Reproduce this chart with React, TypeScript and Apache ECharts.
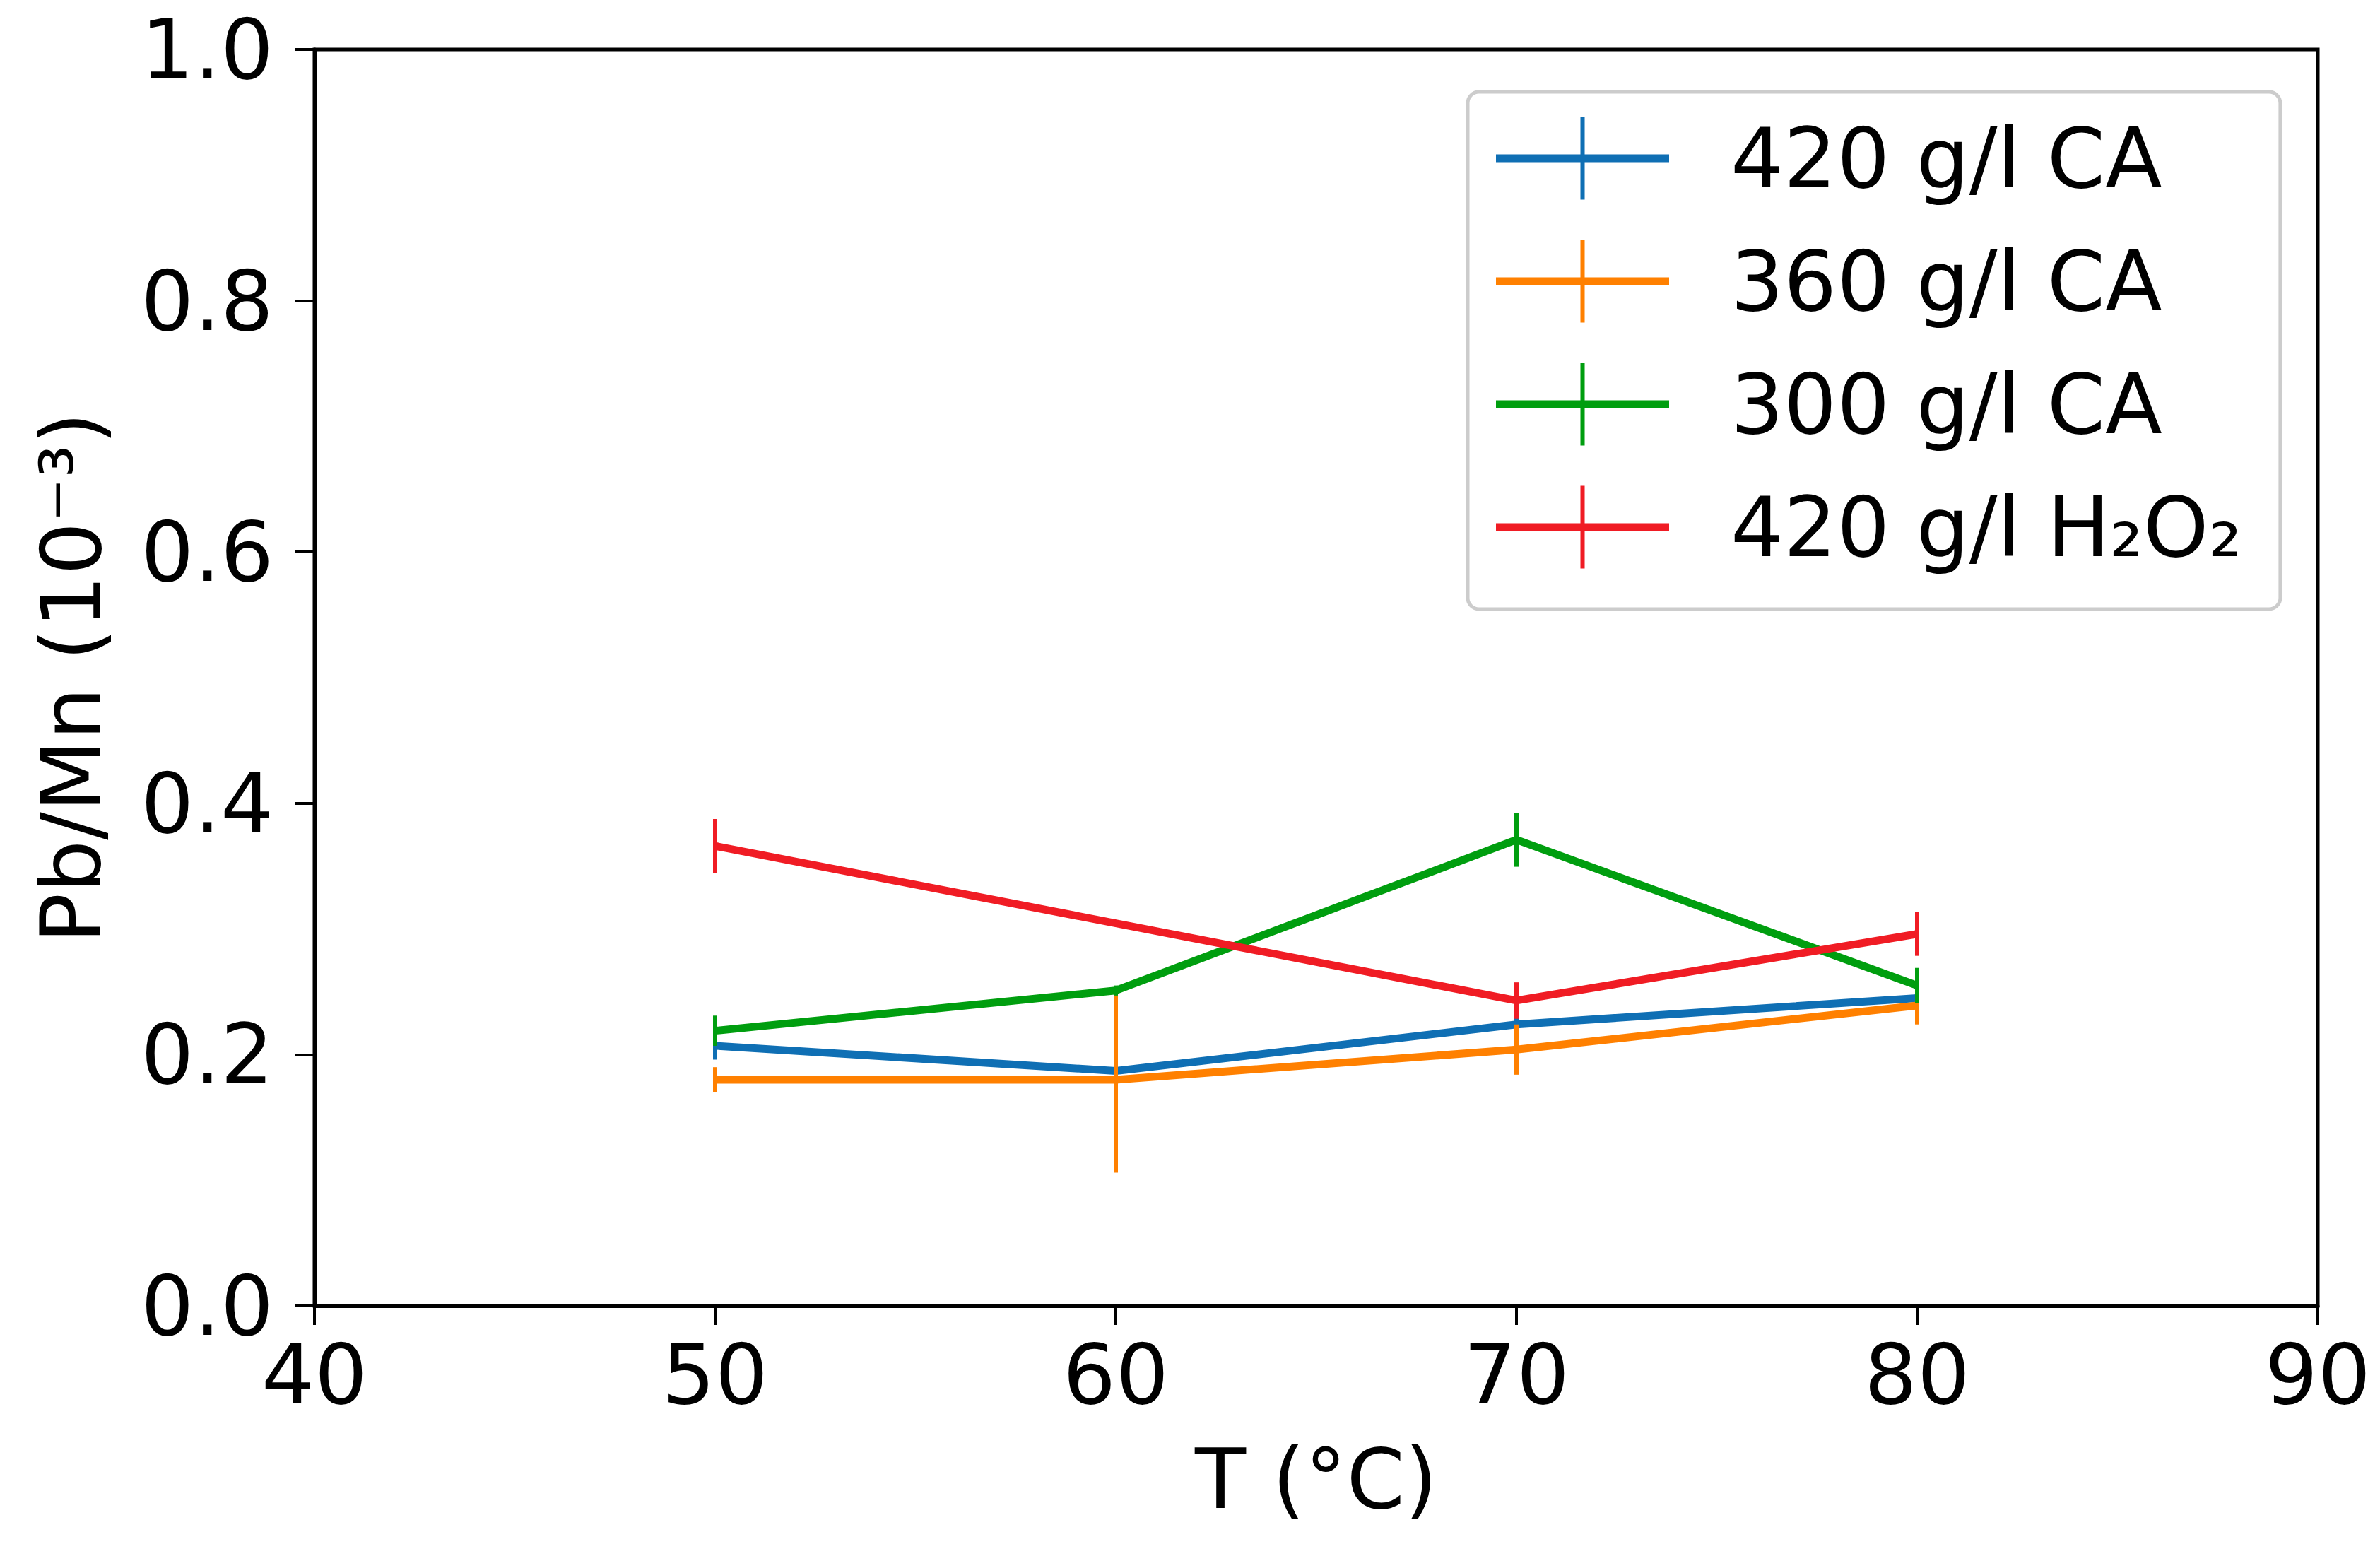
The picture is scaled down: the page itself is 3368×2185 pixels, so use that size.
import React, { FC, useEffect, useRef } from "react";
import * as echarts from "echarts";

const temps = [50, 60, 70, 80];
const seriesNames = ["420 g/l CA", "360 g/l CA", "300 g/l CA", "420 g/l H₂O₂"];
const colors = ["#0f6fb4", "#ff8000", "#009e0f", "#f01c24"];
const ca420 = [0.207, 0.187, 0.224, 0.245];
const ca420Err = [0.011, 0.004, 0.005, 0.004];
const ca360 = [0.18, 0.18, 0.204, 0.239];
const ca360Err = [0.01, 0.074, 0.02, 0.015];
const ca300 = [0.219, 0.251, 0.371, 0.255];
const ca300Err = [0.012, 0.004, 0.0215, 0.014];
const h2o2 = [0.366, null, 0.243, 0.296];
const h2o2Err = [0.0215, null, 0.0145, 0.0174];
const xTicks = [40, 90, 10];
const yTicks = [0, 1, 0.2];

const values = [ca420, ca360, ca300, h2o2];
const errors = [ca420Err, ca360Err, ca300Err, h2o2Err];

const font = "DejaVu Sans";

// legend icon: horizontal line crossed by an error bar
const legendIcon = "path://M0,53H245V64H0Z M119.5,0H125.5V117H119.5Z";

const App: FC = () => {
  const ref = useRef<HTMLDivElement>(null);

  useEffect(() => {
    const chart = echarts.init(ref.current, null, { renderer: "svg" });

    const series: any[] = [];
    values.forEach((vals, i) => {
      const lineData = temps
        .map((t, k) => [t, vals[k]])
        .filter((d) => d[1] !== null);
      series.push({
        name: seriesNames[i],
        type: "line",
        data: lineData,
        symbol: "none",
        showSymbol: false,
        lineStyle: { width: 11, color: colors[i] },
        itemStyle: { color: colors[i] },
        z: 2 + i * 2,
      });
      const errData = temps
        .map((t, k) =>
          vals[k] === null ? null : [t, vals[k]! - errors[i][k]!, vals[k]! + errors[i][k]!]
        )
        .filter((d) => d !== null);
      series.push({
        type: "custom",
        data: errData,
        z: 3 + i * 2,
        silent: true,
        encode: { x: 0, y: [1, 2] },
        renderItem: (params: any, api: any) => {
          const lo = api.coord([api.value(0), api.value(1)]);
          const hi = api.coord([api.value(0), api.value(2)]);
          return {
            type: "line",
            shape: { x1: lo[0], y1: lo[1], x2: hi[0], y2: hi[1] },
            style: { stroke: colors[i], lineWidth: 6 },
          };
        },
      });
    });

    const option = {
      animation: false,
      backgroundColor: "#ffffff",
      textStyle: { fontFamily: font },
      grid: {
        left: 445,
        right: 88,
        top: 70,
        bottom: 337,
        show: true,
        borderColor: "#000",
        borderWidth: 5,
        outerBoundsMode: "none",
      },
      legend: {
        data: seriesNames,
        orient: "vertical",
        left: 2077,
        top: 130,
        icon: legendIcon,
        itemWidth: 245,
        itemHeight: 117,
        itemGap: 56,
        padding: [35, 54, 57, 40],
        backgroundColor: "#ffffff",
        borderColor: "#cccccc",
        borderWidth: 5,
        borderRadius: 16,
        textStyle: {
          fontFamily: font,
          fontSize: 118,
          color: "#000",
          padding: [0, 0, 0, 82],
        },
      },
      xAxis: {
        type: "value",
        min: xTicks[0],
        max: xTicks[1],
        interval: xTicks[2],
        name: "T (°C)",
        nameLocation: "middle",
        nameGap: 186,
        nameTextStyle: { fontFamily: font, fontSize: 118, color: "#000" },
        axisLine: { show: true, lineStyle: { color: "#000", width: 5 } },
        axisTick: { show: true, length: 27, lineStyle: { color: "#000", width: 4 } },
        axisLabel: { fontFamily: font, fontSize: 118, color: "#000", margin: 38 },
        splitLine: { show: false },
      },
      yAxis: {
        type: "value",
        min: yTicks[0],
        max: yTicks[1],
        interval: yTicks[2],
        name: "Pb/Mn (10⁻³)",
        nameLocation: "middle",
        nameRotate: 90,
        nameGap: 285,
        nameTextStyle: { fontFamily: font, fontSize: 118, color: "#000" },
        axisLine: { show: true, lineStyle: { color: "#000", width: 5 } },
        axisTick: { show: true, length: 27, lineStyle: { color: "#000", width: 4 } },
        axisLabel: {
          fontFamily: font,
          fontSize: 118,
          color: "#000",
          margin: 58,
          formatter: (v: number) => v.toFixed(1),
        },
        splitLine: { show: false },
      },
      series,
    };

    chart.setOption(option as any);
    const onResize = () => chart.resize();
    window.addEventListener("resize", onResize);
    return () => {
      window.removeEventListener("resize", onResize);
      chart.dispose();
    };
  }, []);

  return (
    <div
      ref={ref}
      style={{ position: "fixed", left: 0, top: 0, width: 3368, height: 2185, background: "#fff" }}
    />
  );
};

export default App;
